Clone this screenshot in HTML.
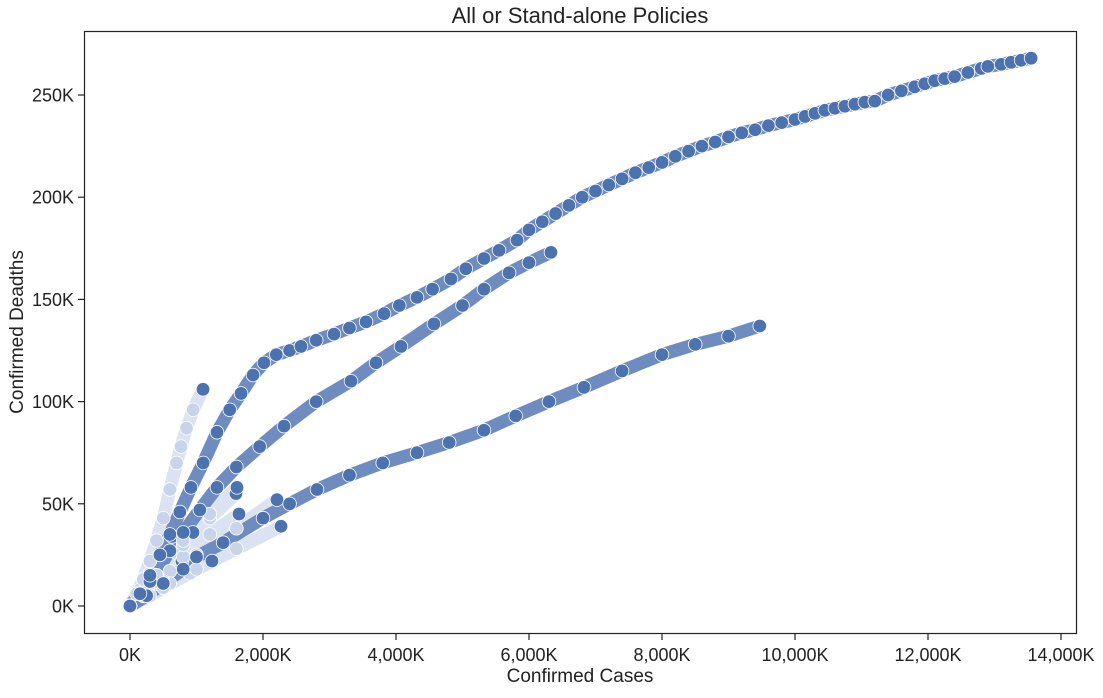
<!DOCTYPE html>
<html><head><meta charset="utf-8"><style>
body{margin:0;background:#fff;}
svg{font-family:"Liberation Sans",Arial,sans-serif;}
</style></head><body>
<svg id="chart" width="1103" height="693">
<rect x="0" y="0" width="1103" height="693" fill="#fff"/>
<text x="580" y="23" text-anchor="middle" font-size="22" fill="#222">All or Stand-alone Policies</text>
<g id="plot"></g>
<rect x="84.5" y="31.5" width="992" height="602" fill="none" stroke="#222" stroke-width="1.2"/>
<g id="axes"></g>
<text x="580" y="682" text-anchor="middle" font-size="19" fill="#222">Confirmed Cases</text>
<text transform="translate(23,332) rotate(-90)" text-anchor="middle" font-size="19" fill="#222">Confirmed Deadths</text>
</svg>
<script>
const xTicks=[0,2000,4000,6000,8000,10000,12000,14000];
const xTickLabels=["0K","2,000K","4,000K","6,000K","8,000K","10,000K","12,000K","14,000K"];
const yTicks=[0,50,100,150,200,250];
const yTickLabels=["0K","50K","100K","150K","200K","250K"];
// series: [cases (K), deaths (K)]
const seriesMain=[[0,0],[150,6],[300,15],[450,25],[600,35],[750,46],[917,58],[1100,70],[1308,85],[1500,96],[1670,104],[1850,113],[2015,119],[2200,123],[2400,125],[2571,127],[2800,130],[3068,133],[3300,136],[3550,139],[3820,143],[4050,147],[4316,151],[4550,155],[4827,160],[5050,165],[5323,170],[5550,174],[5820,179],[6000,184],[6200,188],[6400,192],[6600,196],[6800,200],[7000,203],[7200,206],[7400,209],[7600,212],[7800,214.5],[8000,217],[8200,220],[8400,222.5],[8600,225],[8800,227],[9000,229.5],[9200,231.5],[9400,233],[9600,235],[9800,236.5],[10000,238],[10150,239.5],[10300,241],[10450,242.5],[10600,243.5],[10750,244.5],[10900,245.5],[11050,246.5],[11200,247],[11400,250],[11600,252],[11800,254],[11950,255.5],[12100,257],[12250,258],[12400,259],[12600,261],[12800,263],[12900,264],[13100,265],[13250,266],[13400,267],[13550,268]];
const series2=[[0,0],[300,12],[600,27],[800,36],[1050,47],[1308,58],[1600,68],[1950,78],[2316,88],[2800,100],[3323,110],[3700,119],[4075,127],[4571,138],[5000,147],[5323,155],[5700,163],[6000,168],[6330,173]];
const series3=[[0,0],[250,5],[500,11],[800,18],[1000,24],[1400,31],[2000,43],[2400,50],[2812,57],[3300,64],[3800,70],[4316,75],[4800,80],[5323,86],[5800,93],[6300,100],[6827,107],[7400,115],[8000,123],[8500,128],[9000,132],[9470,137]];
const series4=[[0,0],[100,6],[200,13],[300,22],[400,32],[500,43],[600,57],[700,70],[767,78],[850,87],[950,96],[1098,106]];
const small1=[[0,0],[400,15],[800,32],[1200,45],[1609,58]];
const small2=[[0,0],[400,14],[800,30],[1200,43],[1594,55]];
const small3=[[0,0],[400,12],[800,24],[1200,35],[1639,45]];
const small4=[[0,0],[500,12],[1000,25],[1600,38],[2210,52]];
const small5=[[0,0],[500,9],[1000,18],[1600,28],[2271,39]];
const small6=[[0,0],[300,5],[600,11],[900,16],[1233,22]];
const small7=[[0,0],[200,5],[400,11],[600,17],[782,22]];
const small8=[[0,0],[200,7],[400,15],[700,26],[947,36]];
const small9=[[0,0],[150,8],[300,16],[450,25],[632,34]];

const X0=130, XS=133/2000, Y0=606, YS=102.2/50;
function sx(v){return X0+v*XS;}
function sy(v){return Y0-v*YS;}
const NS="http://www.w3.org/2000/svg";
const plot=document.getElementById('plot'), axes=document.getElementById('axes');
function el(t,a,p){const e=document.createElementNS(NS,t);for(const k in a)e.setAttribute(k,a[k]);p.appendChild(e);return e;}

const paleSeries=[small9,small8,small7,small6,small5,small4,small3,small2,small1,series4];
const solidSeries=[series3,series2,seriesMain];
const allSeries=paleSeries.concat(solidSeries);
allSeries.forEach(s=>{
  const pale=paleSeries.includes(s);
  const d=s.map((p,j)=>(j?'L':'M')+sx(p[0]).toFixed(1)+','+sy(p[1]).toFixed(1)).join('');
  const trail=el('path',{d:d,fill:'none',stroke:pale?'#dbe2f1':'#6f8cc0','stroke-width':13,'stroke-linecap':'round','stroke-linejoin':'round'},plot);
  
  
});
allSeries.forEach(s=>{
  const pale=paleSeries.includes(s);
  s.forEach((p,j)=>{
    const last=j===s.length-1;
    const c=el('circle',{cx:sx(p[0]),cy:sy(p[1]),r:6.8,fill:(pale&&!last)?'#c9d4ea':'#4c72b0',stroke:'#fff','stroke-width':0.8},plot);
    
    
  });
});
xTicks.forEach((v,i)=>{
  const x=sx(v);
  const t=el('line',{x1:x,y1:634,x2:x,y2:640,stroke:'#222','stroke-width':1.2},axes);
  
  
  const l=el('text',{x:x,y:661,'text-anchor':'middle','font-size':18,fill:'#222'},axes);
  l.textContent=xTickLabels[i];
  
  
});
yTicks.forEach((v,i)=>{
  const y=sy(v);
  const t=el('line',{x1:78,y1:y,x2:84,y2:y,stroke:'#222','stroke-width':1.2},axes);
  
  
  const l=el('text',{x:74,y:y+6.5,'text-anchor':'end','font-size':18,fill:'#222'},axes);
  l.textContent=yTickLabels[i];
  
  
});
</script>
</body></html>
